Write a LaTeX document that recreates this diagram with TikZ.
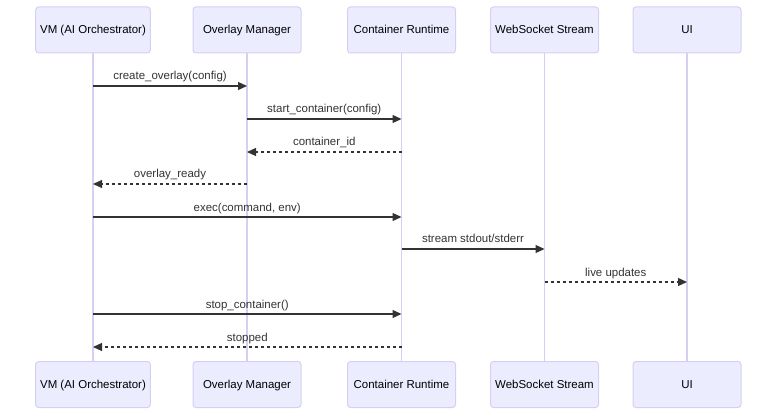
\documentclass[tikz,border=0pt]{standalone}
\usepackage{fontspec}
\setmainfont{Liberation Sans}
\usetikzlibrary{arrows.meta, positioning}

\definecolor{actorfill}{HTML}{ECECFF}
\definecolor{actorline}{HTML}{D8CDF2}
\definecolor{msgtext}{HTML}{333333}

\begin{document}
\begin{tikzpicture}[
      x=0.75pt, y=-0.75pt,
      font=\fontsize{8.6pt}{10pt}\selectfont,
      actor/.style={rectangle, rounded corners=2.25pt, draw=actorline, fill=actorfill,
        line width=0.75pt, minimum width=81pt, minimum height=34.5pt,
        text height=7pt, text depth=1pt, text=black},
      life/.style={draw=actorline, line width=1pt},
      call/.style={draw=msgtext, line width=0.9pt, -{Triangle[length=6.75pt, width=6pt]}},
      reply/.style={call, dash pattern=on 2.25pt off 2.25pt},
      lbl/.style={midway, anchor=base, yshift=4.5pt, inner sep=0pt, text=msgtext}
    ]
      \useasboundingbox (0,0) rectangle (784,420);

      % participants
      \node[actor, minimum width=85.5pt] (vmT) at (93,30) {VM (AI Orchestrator)};
      \node[actor] (omT) at (247,30) {Overlay Manager};
      \node[actor] (crT) at (401.5,30) {Container Runtime};
      \node[actor] (wsT) at (544.5,30) {WebSocket Stream};
      \node[actor] (uiT) at (687,30) {UI};

      \node[actor, minimum width=85.5pt] (vmB) at (93,384.5) {VM (AI Orchestrator)};
      \node[actor] (omB) at (247,384.5) {Overlay Manager};
      \node[actor] (crB) at (401.5,384.5) {Container Runtime};
      \node[actor] (wsB) at (544.5,384.5) {WebSocket Stream};
      \node[actor] (uiB) at (687,384.5) {UI};

      % lifelines
      \draw[life] (vmT.south) -- (vmB.north);
      \draw[life] (omT.south) -- (omB.north);
      \draw[life] (crT.south) -- (crB.north);
      \draw[life] (wsT.south) -- (wsB.north);
      \draw[life] (uiT.south) -- (uiB.north);

      % messages
      \coordinate (m1) at (0,86);
      \coordinate (m2) at (0,119);
      \coordinate (m3) at (0,152);
      \coordinate (m4) at (0,184);
      \coordinate (m5) at (0,217);
      \coordinate (m6) at (0,249);
      \coordinate (m7) at (0,282);
      \coordinate (m8) at (0,314);
      \coordinate (m9) at (0,347);

      \draw[call] (vmT |- m1) -- (omT |- m1) node[lbl] {create\_overlay(config)};
      \draw[call] (omT |- m2) -- (crT |- m2) node[lbl] {start\_container(config)};
      \draw[reply] (crT |- m3) -- (omT |- m3) node[lbl] {container\_id};
      \draw[reply] (omT |- m4) -- (vmT |- m4) node[lbl] {overlay\_ready};
      \draw[call] (vmT |- m5) -- (crT |- m5) node[lbl] {exec(command, env)};
      \draw[call] (crT |- m6) -- (wsT |- m6) node[lbl] {stream stdout/stderr};
      \draw[reply] (wsT |- m7) -- (uiT |- m7) node[lbl] {live updates};
      \draw[call] (vmT |- m8) -- (crT |- m8) node[lbl] {stop\_container()};
      \draw[reply] (crT |- m9) -- (vmT |- m9) node[lbl] {stopped};
    \end{tikzpicture}
\end{document}
